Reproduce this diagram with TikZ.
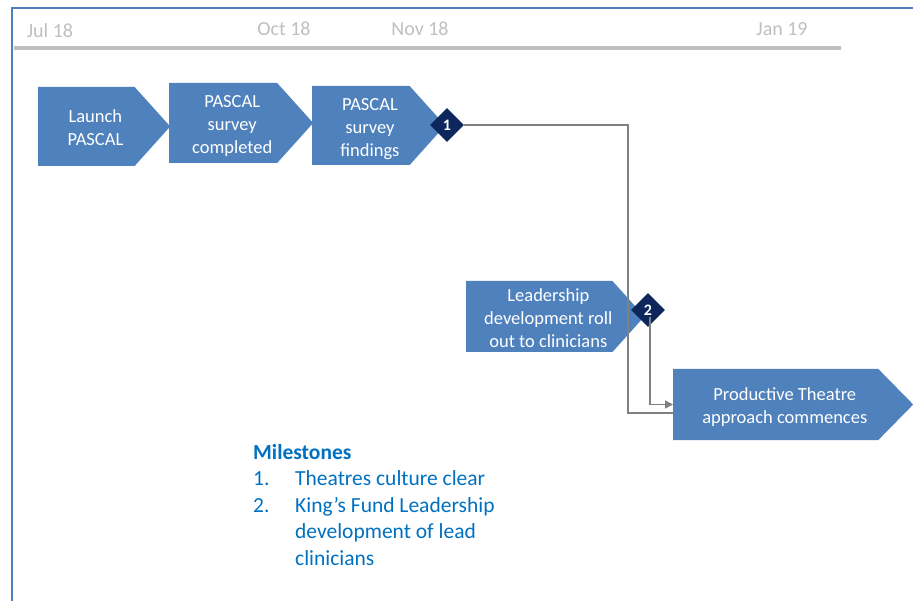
\documentclass[tikz,border=0pt]{standalone}
\usepackage{fontspec}
\setmainfont{Carlito}
\usetikzlibrary{shapes.symbols,shapes.geometric,arrows.meta}
\definecolor{boxblue}{RGB}{79,129,189}
\definecolor{navy}{RGB}{13,39,92}
\definecolor{linegray}{RGB}{128,128,128}
\definecolor{dategray}{RGB}{191,191,191}
\definecolor{textblue}{RGB}{0,112,192}
\newcommand{\boxtext}[1]{\raisebox{-3pt}[\height][\depth]{\begin{tabular}{@{\hspace{18pt}}c@{}}#1\end{tabular}}}

\begin{document}
\begin{tikzpicture}
  [x=1pt,y=-1pt,every node/.style={inner sep=0pt},
   task/.style={signal,signal to=east,signal from=nowhere,signal pointer angle=96,
     fill=boxblue,text=white,anchor=west,font=\fontsize{18.5}{23}\selectfont},
   mile/.style={diamond,fill=navy,text=white,minimum size=34pt,font=\fontsize{16}{16}\selectfont\bfseries},
   date/.style={text=dategray,font=\fontsize{20}{20}\selectfont},
   conn/.style={draw=linegray,line width=1.5pt}]

  \useasboundingbox (0,0) rectangle (913,601);
  \draw[boxblue,line width=2pt] (12,601) -- (12,8) -- (913,8);

  %%%%%%%%%%%%%%%%%%%%%% TIMELINE %%%%%%%%%%%%%%%%%%%%%%

  \draw[dategray,line width=4pt] (14,48) -- (841,48);
  \node[date] (date_1) at (50,31)   {Jul 18};
  \node[date] (date_2) at (284,29)  {Oct 18};
  \node[date] (date_3) at (420,29)  {Nov 18};
  \node[date] (date_4) at (782,29)  {Jan 19};

  %%%%%%%%%%%%%%%%%%%%%% TASKS %%%%%%%%%%%%%%%%%%%%%%

  \node[task,minimum width=132pt,minimum height=79pt] (task_1) at (38,126.5)  {\boxtext{Launch\\PASCAL}};
  \node[task,minimum width=144pt,minimum height=80pt] (task_2) at (169,123)   {\boxtext{PASCAL\\survey\\completed}};
  \node[task,minimum width=133pt,minimum height=79pt] (task_3) at (312,125.5) {\boxtext{PASCAL\\survey\\findings}};
  \node[task,minimum width=174pt,minimum height=71pt] (task_4) at (466,316.5) {\boxtext{Leadership\\development roll\\out to clinicians}};
  \node[task,minimum width=240pt,minimum height=71pt,signal pointer angle=91] (task_5) at (673,404.5) {\boxtext{Productive Theatre\\approach commences}};

  \node[mile] (mile_1) at (447,125) {1};
  \node[mile] (mile_2) at (648,310) {2};

  %%%%%%%%%%%%%%%%%%%%%% LINKS %%%%%%%%%%%%%%%%%%%%%%

  \coordinate (bend_1) at (628,413);
  \draw[conn] (mile_1.east) -| (bend_1) -- (bend_1 -| task_5.west);
  \draw[conn,-{Triangle[length=8pt,width=8pt]}] ([xshift=2pt,yshift=-7pt]mile_2.center) |- (task_5.west);

  %%%%%%%%%%%%%%%%%%%%%% KEY %%%%%%%%%%%%%%%%%%%%%%

  \node[anchor=north west,align=left,text=textblue,font=\fontsize{21.5}{26.5}\selectfont] (key) at (253,444)
    {\textbf{Milestones}\\
     \makebox[42pt][l]{1.}Theatres culture clear\\
     \makebox[42pt][l]{2.}King’s Fund Leadership\\
     \hspace*{42pt}development of lead\\
     \hspace*{42pt}clinicians};
\end{tikzpicture}
\end{document}
